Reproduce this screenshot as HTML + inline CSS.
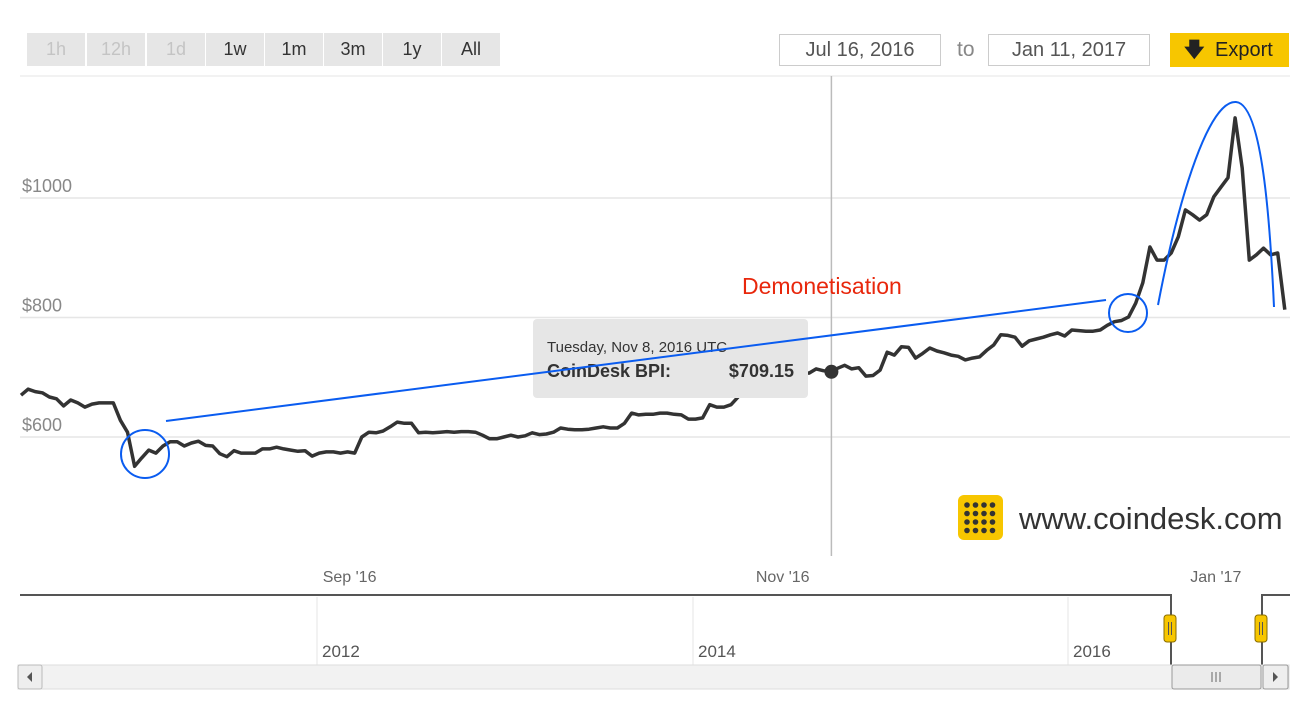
<!DOCTYPE html>
<html><head><meta charset="utf-8">
<style>
html,body{margin:0;padding:0;background:#fff;width:1308px;height:709px;overflow:hidden;font-family:"Liberation Sans",sans-serif;}
.btn{position:absolute;top:33px;height:33px;width:58px;background:#e6e6e6;color:#333;font-size:18px;text-align:center;line-height:33px;}
.dis{color:#c4c4c4;}
.date{position:absolute;top:34px;height:30px;border:1px solid #ccc;color:#555;font-size:20px;text-align:center;line-height:30px;background:#fff;}
</style></head><body>
<div class="btn dis" style="left:27px">1h</div>
<div class="btn dis" style="left:87px">12h</div>
<div class="btn dis" style="left:147px">1d</div>
<div class="btn" style="left:206px">1w</div>
<div class="btn" style="left:265px">1m</div>
<div class="btn" style="left:324px">3m</div>
<div class="btn" style="left:383px">1y</div>
<div class="btn" style="left:442px">All</div>
<div class="date" style="left:779px;width:160px">Jul 16, 2016</div>
<div style="position:absolute;left:957px;top:38px;font-size:21px;color:#888">to</div>
<div class="date" style="left:988px;width:160px">Jan 11, 2017</div>
<div style="position:absolute;left:1170px;top:33px;width:119px;height:34px;background:#f7c600;color:#222;font-size:20px;line-height:34px;"><span style="position:absolute;left:14px;font-weight:bold">&#129095;</span><span style="position:absolute;left:45px">Export</span></div>

<svg id="chart" width="1308" height="709" style="position:absolute;left:0;top:0" xmlns="http://www.w3.org/2000/svg"></svg>

<script>
const days=[0,1,2,3,4,5,6,7,8,9,10,11,12,13,14,15,16,17,18,19,20,21,22,23,24,25,26,27,28,29,30,31,32,33,34,35,36,37,38,39,40,41,42,43,44,45,46,47,48,49,50,51,52,53,54,55,56,57,58,59,60,61,62,63,64,65,66,67,68,69,70,71,72,73,74,75,76,77,78,79,80,81,82,83,84,85,86,87,88,89,90,91,92,93,94,95,96,97,98,99,100,101,102,103,104,105,106,107,108,109,110,111,112,113,114,115,116,117,118,119,120,121,122,123,124,125,126,127,128,129,130,131,132,133,134,135,136,137,138,139,140,141,142,143,144,145,146,147,148,149,150,151,152,153,154,155,156,157,158,159,160,161,162,163,164,165,166,167,168,169,170,171,172,173,174,175,176,177,178];
const prices=[670,680,676,674,667,664,652,662,657,650,655,657,657,657,628,608,551,565,578,573,585,592,592,585,590,593,586,585,572,567,577,573,573,573,580,580,583,580,578,576,577,568,573,575,575,573,575,573,600,608,607,610,617,625,623,623,607,608,607,608,609,608,609,609,608,603,597,597,600,603,600,602,607,604,605,608,615,613,612,612,613,615,617,615,615,623,640,637,638,638,640,640,638,637,630,630,632,654,650,650,654,667,680,688,687,696,700,699,704,704,708,707,714,711,709.15,715,720,714,716,702,703,712,742,737,751,750,732,740,749,744,741,737,735,729,732,734,745,754,771,770,767,752,761,764,767,771,774,769,779,778,777,777,779,787,793,795,801,824,858,918,896,896,908,935,980,972,963,972,1002,1018,1034,1134,1050,896,905,916,905,908,813];
const yTicks=[600,800,1000];
const yTickLabels=["$600","$800","$1000"];
const xTickDays=[46,107,168];
const xTickLabels=["Sep '16","Nov '16","Jan '17"];
const navYears=["2012","2014","2016"];
const hoverDay=114;

const NS="http://www.w3.org/2000/svg";
const svg=document.getElementById('chart');
const X=d=>21+d*7.1;
const Y=v=>437-(v-600)*0.5975;
function mk(tag,attrs,parent){const e=document.createElementNS(NS,tag);for(const k in attrs)e.setAttribute(k,attrs[k]);(parent||svg).appendChild(e);return e;}

mk('line',{x1:20,x2:1290,y1:76,y2:76,stroke:'#e6e6e6','stroke-width':1});
yTicks.forEach((t,i)=>{
  const g=mk('line',{x1:20,x2:1290,y1:Y(t),y2:Y(t),stroke:'#e6e6e6','stroke-width':1.5});
  
  
  const l=mk('text',{x:22,y:Y(t)-6,'font-size':18,fill:'#888','font-family':'Liberation Sans'});
  l.textContent=yTickLabels[i];
  
  
});
xTickDays.forEach((d,i)=>{
  const l=mk('text',{x:X(d)+2,y:582,'font-size':16,fill:'#666','text-anchor':'middle','font-family':'Liberation Sans'});
  l.textContent=xTickLabels[i];
  
  
});
const ch=mk('line',{x1:X(hoverDay)+1,x2:X(hoverDay)+1,y1:76,y2:556,stroke:'#bbb','stroke-width':1.5});


const lg=mk('g',{});


mk('rect',{x:958,y:495,width:45,height:45,rx:6,fill:'#f7c600'},lg);
for(let r=0;r<4;r++)for(let c=0;c<4;c++)mk('circle',{cx:967+c*8.5,cy:505+r*8.5,r:2.8,fill:'#333'},lg);
const lt=mk('text',{x:1019,y:529,'font-size':31,fill:'#333','font-family':'Liberation Sans'},lg);lt.textContent='www.coindesk.com';
let dstr='';
days.forEach((d,i)=>{dstr+=(i?'L':'M')+X(d).toFixed(1)+','+Y(prices[i]).toFixed(1);});
const ln=mk('path',{d:dstr,fill:'none',stroke:'#333','stroke-width':3.5,'stroke-linejoin':'round'});


const hi=days.indexOf(hoverDay);
const dot=mk('circle',{cx:X(hoverDay)+1,cy:Y(prices[hi]),r:7,fill:'#333'});


const tt=mk('g',{});


mk('rect',{x:533,y:319,width:275,height:79,rx:4,fill:'#e6e6e6'},tt);
const t1=mk('text',{x:547,y:352,'font-size':15,fill:'#333','font-family':'Liberation Sans'},tt);t1.textContent='Tuesday, Nov 8, 2016 UTC';
const t2=mk('text',{x:547,y:377,'font-size':18,'font-weight':'bold',fill:'#333','font-family':'Liberation Sans'},tt);t2.textContent='CoinDesk BPI:';
const t3=mk('text',{x:794,y:377,'font-size':18,'font-weight':'bold',fill:'#333','text-anchor':'end','font-family':'Liberation Sans'},tt);t3.textContent='$'+prices[hi].toFixed(2);
const an=mk('g',{fill:'none',stroke:'#0a5cf0','stroke-width':2});


mk('line',{x1:166,y1:421,x2:1106,y2:300},an);
mk('circle',{cx:145,cy:454,r:24},an);
mk('circle',{cx:1128,cy:313,r:19},an);
mk('path',{d:'M1158,305 C1180,190 1210,100 1236,102 C1262,104 1270,220 1274,307'},an);
const dm=mk('text',{x:742,y:294,'font-size':23,fill:'#e8270c','font-family':'Liberation Sans'});
dm.textContent='Demonetisation';


const nv=mk('g',{});


[317,693,1068].forEach((x,i)=>{
  mk('line',{x1:x,x2:x,y1:597,y2:665,stroke:'#e6e6e6'},nv);
  const t=mk('text',{x:x+5,y:657,'font-size':17,fill:'#555','font-family':'Liberation Sans'},nv);t.textContent=navYears[i];
});
mk('path',{d:'M20,595 H1171 V665 M1262,665 V595 H1290',fill:'none',stroke:'#555','stroke-width':2},nv);
[1170,1261].forEach(x=>{
  const h=mk('rect',{x:x-6,y:615,width:12,height:27,rx:3,fill:'#f7c600',stroke:'#8a6d00'},nv);
  
  
  mk('line',{x1:x-1.5,x2:x-1.5,y1:622,y2:635,stroke:'#555'},nv);
  mk('line',{x1:x+1.5,x2:x+1.5,y1:622,y2:635,stroke:'#555'},nv);
});
const sb=mk('g',{});


mk('rect',{x:18,y:665,width:1271,height:24,fill:'#f2f2f2',stroke:'#ddd'},sb);
mk('rect',{x:18,y:665,width:24,height:24,rx:2,fill:'#eee',stroke:'#bbb'},sb);
mk('path',{d:'M32,672 L27,677 L32,682Z',fill:'#555'},sb);
mk('rect',{x:1172,y:665,width:89,height:24,rx:2,fill:'#ebebeb',stroke:'#999'},sb);
mk('path',{d:'M1212,672V682M1216,672V682M1220,672V682',stroke:'#666'},sb);
mk('rect',{x:1263,y:665,width:25,height:24,rx:2,fill:'#eee',stroke:'#999'},sb);
mk('path',{d:'M1273,672 L1278,677 L1273,682Z',fill:'#555'},sb);
</script>
</body></html>
